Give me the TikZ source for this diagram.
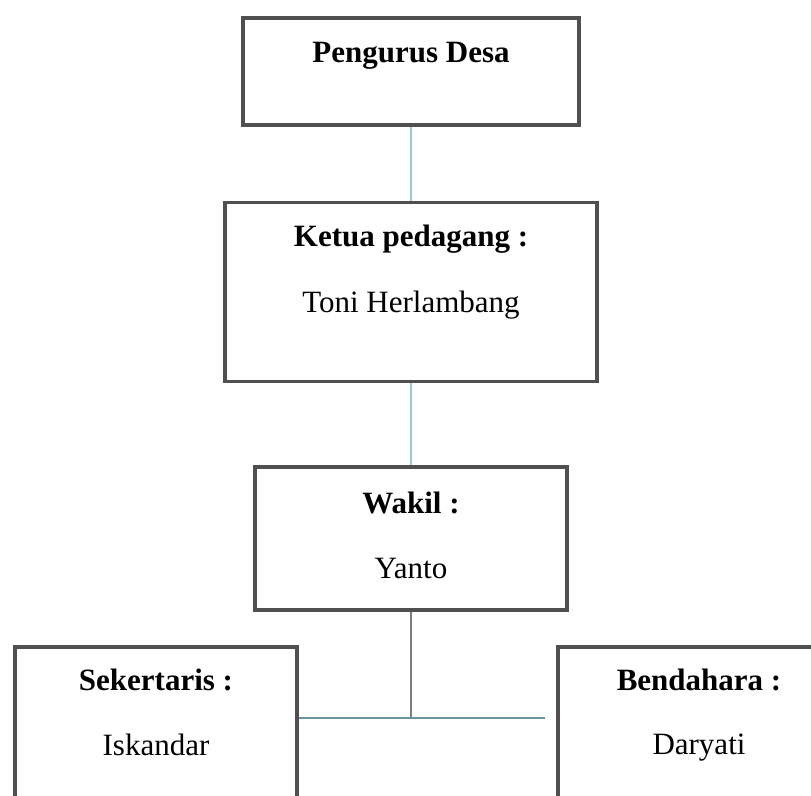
\documentclass[tikz,border=0pt]{standalone}
\usepackage{fontspec}
\setmainfont{Liberation Serif}
\usetikzlibrary{positioning}
\definecolor{boxgray}{RGB}{80,80,80}
\definecolor{linkblue}{RGB}{160,195,205}
\definecolor{stemgray}{RGB}{125,125,125}
\definecolor{barblue}{RGB}{105,145,160}

\begin{document}
\begin{tikzpicture}[x=1pt, y=-1pt,
  box/.style={draw=boxgray, line width=3.5pt, rectangle, inner sep=0pt},
  head/.style={font=\fontsize{31}{36}\selectfont\bfseries},
  who/.style={font=\fontsize{31}{36}\selectfont}]
\clip (0,0) rectangle (811,795);
\node (Desa) [box, minimum width=336pt, minimum height=107pt] at (411,71.5) {};
\node (Ketua) [box, minimum width=372pt, minimum height=179pt, below=74pt of Desa] {};
\node (Wakil) [box, minimum width=312pt, minimum height=143pt, below=82pt of Ketua] {};
\node (Sekr) [box, minimum width=282pt, minimum height=183pt] at (156,738.5) {};
\node (Bend) [box, minimum width=282pt, minimum height=183pt] at (699,738.5) {};
% texts
\node (DesaT) [head] at ([yshift=-40pt]Desa.north) {Pengurus Desa};
\node (KetuaT) [head] at ([yshift=-38pt]Ketua.north) {Ketua pedagang :};
\node (KetuaN) [who] at ([yshift=-104pt]Ketua.north) {Toni Herlambang};
\node (WakilT) [head] at ([yshift=-38pt]Wakil.north) {Wakil :};
\node (WakilN) [who] at ([yshift=-103pt]Wakil.north) {Yanto};
\node (SekrT) [head] at ([yshift=-35pt]Sekr.north) {Sekertaris :};
\node (SekrN) [who] at ([yshift=-100pt]Sekr.north) {Iskandar};
\node (BendT) [head] at ([yshift=-35pt]Bend.north) {Bendahara :};
\node (BendN) [who] at ([yshift=-102pt]Bend.north) {Daryati};
% lines
\coordinate (Junc) at (411,718);
\coordinate (JuncR) at (545,718);
\draw[linkblue, line width=1.5pt] (Desa) -- (Ketua);
\draw[linkblue, line width=1.5pt] (Ketua) -- (Wakil);
\draw[stemgray, line width=1.2pt] (Wakil) -- (Junc);
\draw[barblue, line width=1.8pt] (Sekr.east |- Junc) -- (JuncR);
\end{tikzpicture}
\end{document}
